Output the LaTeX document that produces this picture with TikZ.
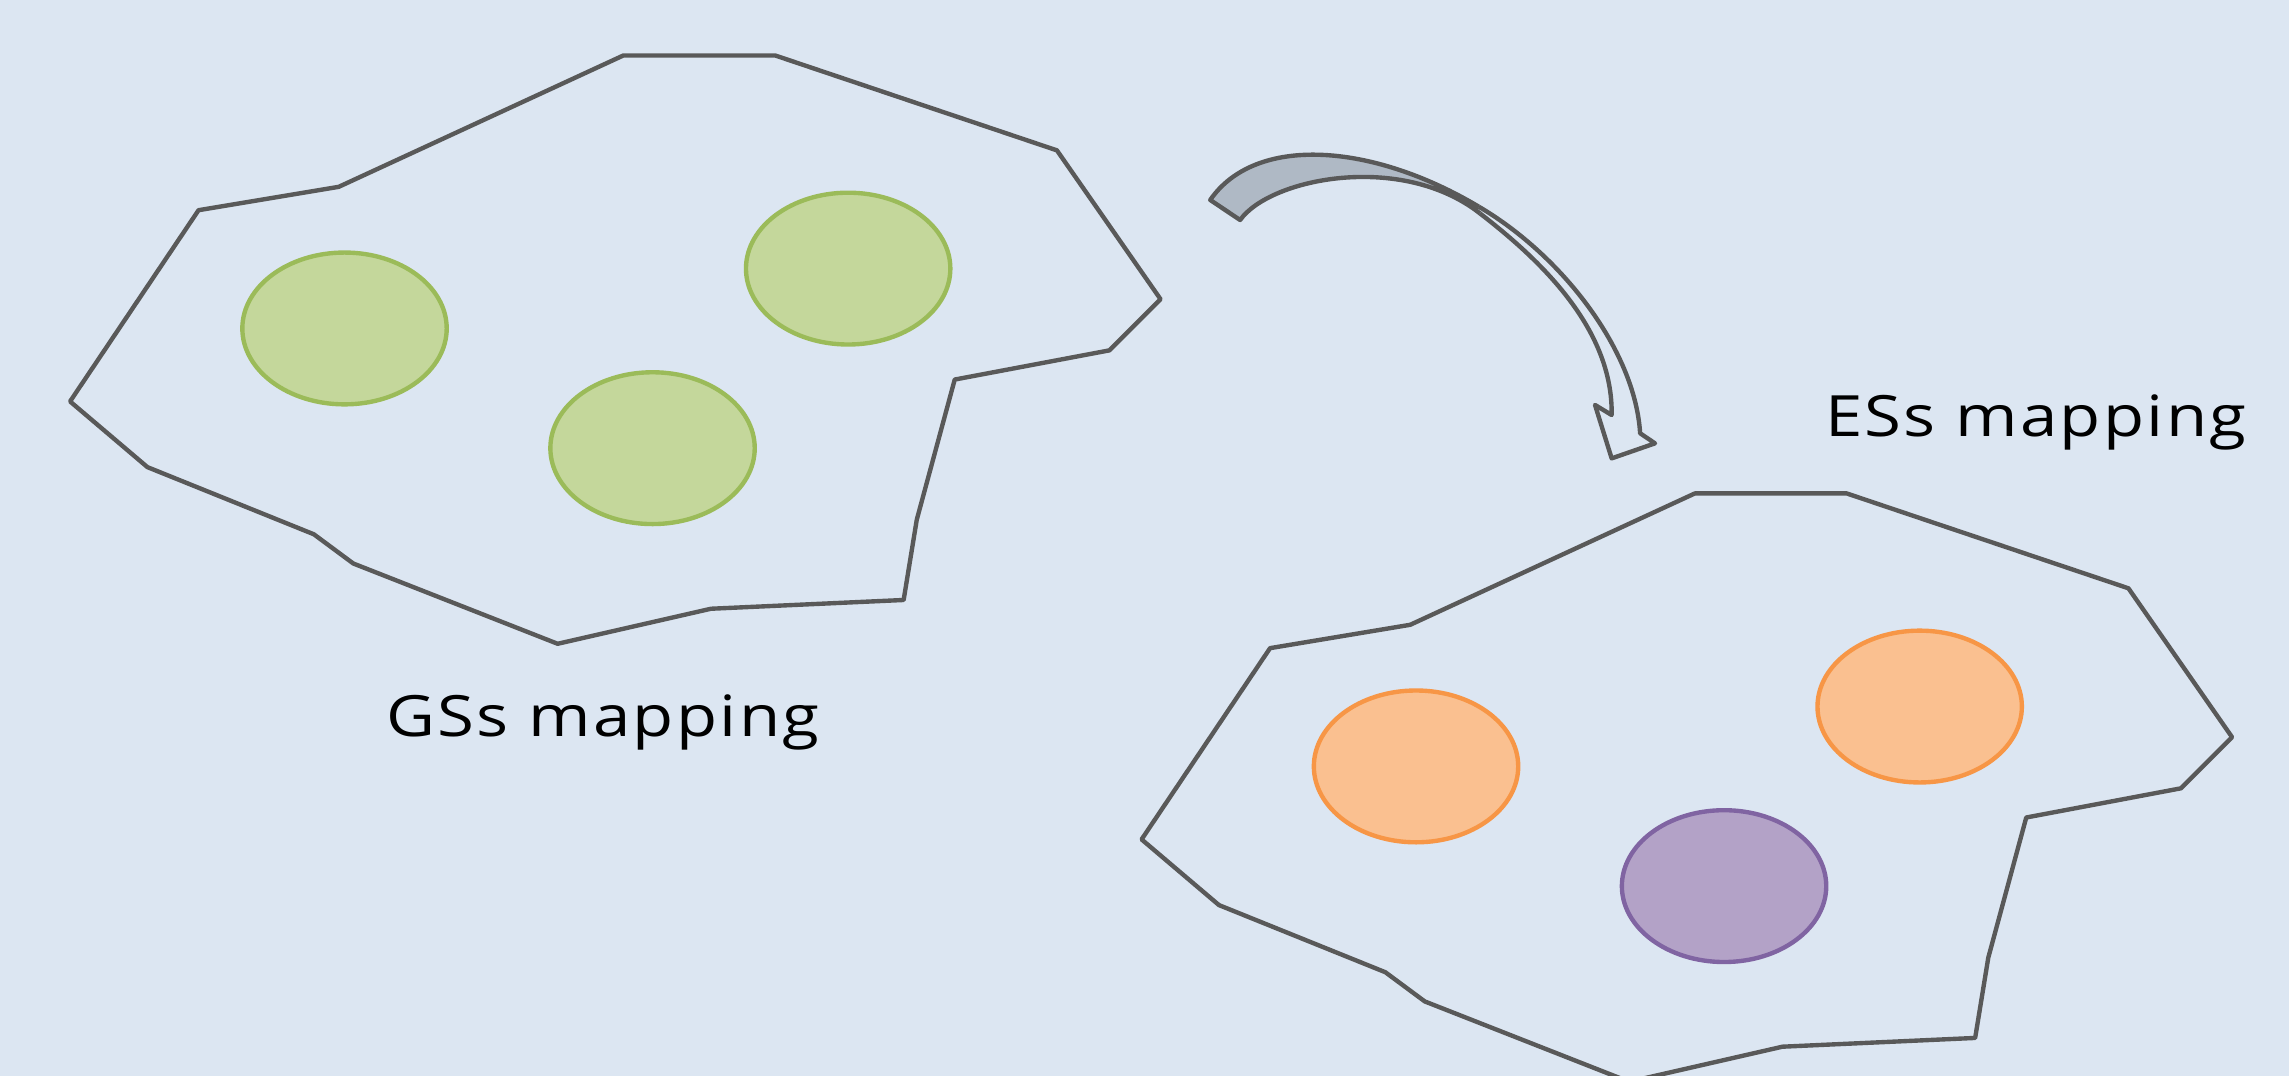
\documentclass[tikz,border=0pt]{standalone}
\usepackage{fontspec}
\setmainfont{Open Sans}
\newfontfamily\mapfont{Open Sans}[LetterSpace=4, FakeStretch=1.18]
\usetikzlibrary{shapes.geometric}
\definecolor{pagebg}{HTML}{DCE6F2}
\definecolor{outline}{HTML}{595959}
\definecolor{greenfill}{HTML}{C4D79B}
\definecolor{greenline}{HTML}{9BBB59}
\definecolor{orangefill}{HTML}{FAC090}
\definecolor{orangeline}{HTML}{F79646}
\definecolor{purplefill}{HTML}{B3A2C7}
\definecolor{purpleline}{HTML}{8064A2}
\definecolor{arrowfill}{HTML}{AFB9C5}
\tikzset{
  region/.style={draw=outline, line width=1.5pt, line join=round},
  cluster/.style={ellipse, minimum width=70pt, minimum height=52pt, line width=1.5pt, inner sep=0pt},
  gsnode/.style={cluster, draw=greenline, fill=greenfill},
  esnode/.style={cluster, draw=orangeline, fill=orangefill},
  esnodeB/.style={cluster, draw=purpleline, fill=purplefill},
  maptext/.style={font=\mapfont\fontsize{19.5}{24}\selectfont, text=black, anchor=base, inner sep=0pt},
  arrowline/.style={draw=outline, line width=1.5pt, line join=round}
}
\begin{document}
\begin{tikzpicture}[x=0.5pt, y=-0.5pt]
  \useasboundingbox (0,0) rectangle (1568,737);
  \fill[pagebg] (0,0) rectangle (1568,737);
  \clip (0,0) rectangle (1568,737);

  % the region outline, drawn once for each mapping
  \def\regionpath{(427,38) -- (531,38) -- (724,103) -- (795,205) -- (760,240)
    -- (654,260) -- (628,356) -- (619,411) -- (487,417) -- (382,441)
    -- (242,386) -- (215,366) -- (101,320) -- (48,275) -- (136,144)
    -- (232,128) -- cycle}
  \draw[region] \regionpath;
  \begin{scope}[shift={(734,300)}]
    \draw[region] \regionpath;
  \end{scope}

  % GSs clusters
  \node[gsnode] (g1) at (236,225) {};
  \node[gsnode] (g2) at (581,184) {};
  \node[gsnode] (g3) at (447,307) {};

  % ESs clusters
  \node[esnode]  (e1) at (970,525) {};
  \node[esnode]  (e2) at (1315,484) {};
  \node[esnodeB] (e3) at (1181,607) {};

  % labels
  \node[maptext] (gslabel) at (413,504.6) {GSs mapping};
  \node[maptext] (eslabel) at (1394.5,299) {ESs mapping};

  % curved arrow: shaded back face up to the twist
  \fill[arrowfill] (829,137) .. controls (860,92) and (940,98) .. (1013,141.6)
    -- (1013.8,146.2) .. controls (960,104) and (870,122) .. (849.5,150.7) -- cycle;
  \draw[arrowline] (1013,141.6) .. controls (1070,175) and (1120,240) .. (1123.5,296.8)
    -- (1133.7,303.7) -- (1104,314) -- (1092.6,277.4) -- (1104,284.3)
    .. controls (1105,225) and (1055,178) .. (1013.8,146.2);
  \draw[arrowline] (1013,141.6) .. controls (940,98) and (860,92) .. (829,137)
    -- (849.5,150.7) .. controls (870,122) and (960,104) .. (1013.8,146.2);
\end{tikzpicture}
\end{document}
